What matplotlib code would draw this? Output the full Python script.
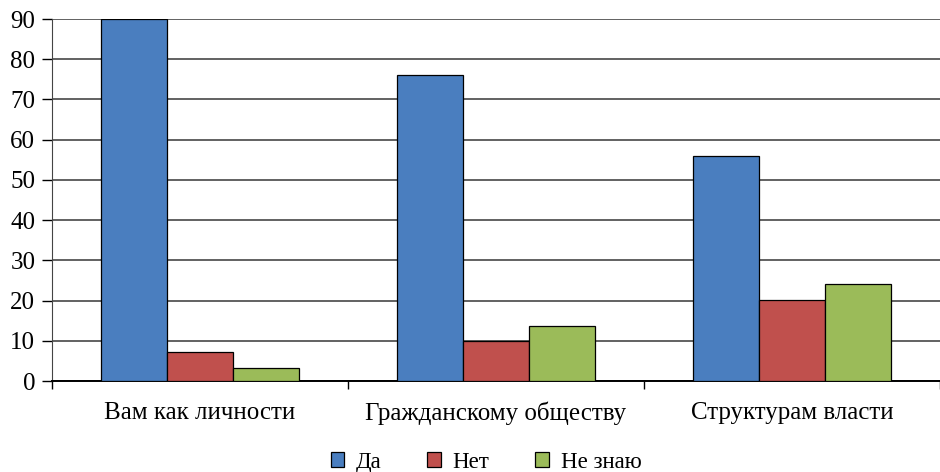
import matplotlib.pyplot as plt
import numpy as np

plt.rcParams['font.family'] = ['Liberation Serif', 'DejaVu Serif']

categories = ["Вам как личности", "Гражданскому обществу", "Структурам власти"]
series = ["Да", "Нет", "Не знаю"]
da = [90, 76, 56]
net = [7.2, 9.9, 20.2]
ne_znayu = [3.2, 13.7, 24.2]
colors = ["#4a7ebf", "#c0504d", "#9bbb59"]
yticks = [0, 10, 20, 30, 40, 50, 60, 70, 80, 90]

fig = plt.figure(figsize=(9.4, 4.72), dpi=100)
ax = fig.add_axes([52/940, 1 - 381/472, 888/940, 362/472])

x = np.arange(len(categories))
w = 0.222
for i, (vals, name) in enumerate(zip([da, net, ne_znayu], series)):
    ax.bar(x + (i - 1) * w, vals, w, color=colors[i], edgecolor="black",
           linewidth=0.9, label=name, zorder=3)

ax.set_xlim(-0.5, 2.5)
ax.set_ylim(0, 90)
ax.set_yticks(yticks)
ax.set_yticklabels([str(t) for t in yticks], fontsize=18)
ax.yaxis.grid(True, color="#555555", linewidth=1.3, zorder=0)
ax.tick_params(axis="y", length=7, width=1, direction="out", pad=5)

# category labels between tick marks at group boundaries
ax.set_xticks([-0.5, 0.5, 1.5, 2.5])
ax.set_xticklabels([])
ax.set_xticks(x, minor=True)
ax.set_xticklabels(categories, minor=True, fontsize=18)
ax.tick_params(axis="x", which="major", length=6, width=1, direction="out")
ax.tick_params(axis="x", which="minor", length=0, pad=15)

for s in ["top", "right"]:
    ax.spines[s].set_visible(False)
ax.spines["left"].set_color("#444444")
ax.spines["bottom"].set_linewidth(1.4)

fig.legend(loc="lower center", ncol=3, frameon=False, fontsize=16.5,
           bbox_to_anchor=(0.517, -0.045), handlelength=0.6, handleheight=0.6,
           columnspacing=2.0, handletextpad=0.5)

fig.savefig("out.png", dpi=100)
